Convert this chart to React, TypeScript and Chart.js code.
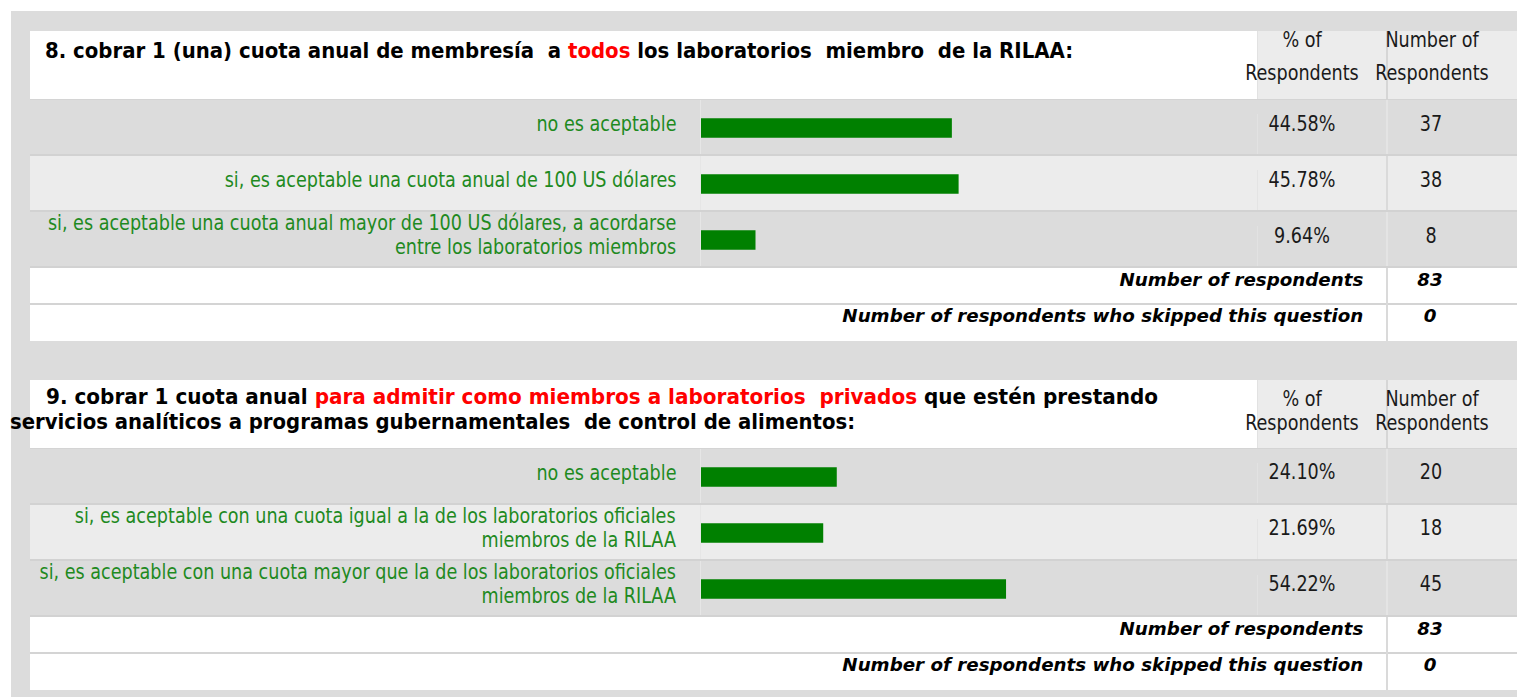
import React, { useEffect, useRef, useMemo } from 'react';
import { Chart, registerables } from 'chart.js';
Chart.register(...registerables);

// ---------- DATA ----------
const q8Title = [
  [
    { text: '8. cobrar 1 (una) cuota anual de membresía  a ', red: false },
    { text: 'todos', red: true },
    { text: ' los laboratorios  miembro  de la RILAA:', red: false },
  ],
];
const q8Categories = [
  ['no es aceptable'],
  ['si, es aceptable una cuota anual de 100 US dólares'],
  ['si, es aceptable una cuota anual mayor de 100 US dólares, a acordarse', 'entre los laboratorios miembros'],
];
const q8Percents = [44.58, 45.78, 9.64];
const q8Counts = [37, 38, 8];
const q8Answered = 83;
const q8Skipped = 0;

const q9Title = [
  [
    { text: '9. cobrar 1 cuota anual ', red: false },
    { text: 'para admitir como miembros a laboratorios  privados', red: true },
    { text: ' que estén prestando', red: false },
  ],
  [{ text: 'servicios analíticos a programas gubernamentales  de control de alimentos:', red: false }],
];
const q9Categories = [
  ['no es aceptable'],
  ['si, es aceptable con una cuota igual a la de los laboratorios oficiales', 'miembros de la RILAA'],
  ['si, es aceptable con una cuota mayor que la de los laboratorios oficiales', 'miembros de la RILAA'],
];
const q9Percents = [24.1, 21.69, 54.22];
const q9Counts = [20, 18, 45];
const q9Answered = 83;
const q9Skipped = 0;

const columnHeaders = [
  ['% of', 'Respondents'],
  ['Number of', 'Respondents'],
];
const footerLabels = ['Number of respondents', 'Number of respondents who skipped this question'];

// ---------- STYLE ----------
const FAMILY = '"DejaVu Sans Condensed", "DejaVu Sans", sans-serif';
const REG = { weight: 400, style: 'normal', size: 21 };
const BOLD = { weight: 700, style: 'normal', size: 21 };
const FOOT = { weight: 700, style: 'italic', size: 18 };
const GREEN_TEXT = '#1f8a1f';
const BAR_GREEN = '#008000';

function fontStr(f: any) {
  return `${f.style} ${f.weight} ${f.size}px ${FAMILY}`;
}
let ctxCache: CanvasRenderingContext2D | null = null;
function measure(text: string, f: any) {
  if (!ctxCache) ctxCache = document.createElement('canvas').getContext('2d');
  ctxCache!.font = fontStr(f);
  return ctxCache!.measureText(text).width;
}

type Anchor = 'left' | 'right' | 'center';
function Txt(props: {
  x: number; y: number; anchor: Anchor; font: any; k: number; color?: string; children: any;
}) {
  const { x, y, anchor, font, k, color = '#000', children } = props;
  const top = y - 0.928 * font.size;
  const span: any = {
    position: 'absolute',
    top: 0,
    whiteSpace: 'pre',
    fontFamily: FAMILY,
    fontWeight: font.weight,
    fontStyle: font.style,
    fontSize: font.size,
    lineHeight: 1.164,
    color,
  };
  if (anchor === 'left') {
    span.left = 0;
    span.transformOrigin = 'left top';
    span.transform = `scaleX(${k})`;
  } else if (anchor === 'right') {
    span.right = 0;
    span.transformOrigin = 'right top';
    span.transform = `scaleX(${k})`;
  } else {
    span.left = 0;
    span.transform = `translateX(-50%) scaleX(${k})`;
  }
  return (
    <div style={{ position: 'absolute', left: x, top, width: 0, height: 0 }}>
      <span style={span}>{children}</span>
    </div>
  );
}

function Box(p: { l: number; t: number; w: number; h: number; c: string }) {
  return <div style={{ position: 'absolute', left: p.l, top: p.t, width: p.w, height: p.h, background: p.c }} />;
}

function Bars(p: { left: number; top: number; width: number; height: number; labels: string[][]; values: number[] }) {
  const ref = useRef<HTMLCanvasElement>(null);
  useEffect(() => {
    const chart = new Chart(ref.current!, {
      type: 'bar',
      data: {
        labels: p.labels.map((l) => l.join(' ')),
        datasets: [{ data: p.values, backgroundColor: BAR_GREEN, borderWidth: 0, barThickness: 19 }],
      },
      options: {
        indexAxis: 'y',
        responsive: false,
        animation: false,
        devicePixelRatio: 1,
        layout: { padding: 0 },
        plugins: { legend: { display: false }, tooltip: { enabled: false } },
        scales: {
          x: { display: false, min: 0, max: 100 },
          y: { display: false },
        },
      },
    } as any);
    return () => chart.destroy();
  }, []);
  return (
    <canvas
      ref={ref}
      width={p.width}
      height={p.height}
      style={{ position: 'absolute', left: p.left, top: p.top, width: p.width, height: p.height }}
    />
  );
}

function Block(p: {
  T: number;
  title: { text: string; red: boolean }[][];
  titlePos: { x: number; dy: number; w: number }[];
  headDy: number[];
  categories: string[][];
  percents: number[];
  counts: number[];
  answered: number;
  skipped: number;
  numDy: number;
  ks: { reg: number; foot: number };
}) {
  const { T, ks } = p;
  const rowsTop = T + 69;
  const F = rowsTop + 168;
  const els: any[] = [];
  // header
  els.push(<Box key="hw" l={30} t={T} w={1228} h={69} c="#ffffff" />);
  els.push(<Box key="hp" l={1258} t={T} w={129} h={69} c="#ececec" />);
  els.push(<Box key="hn" l={1387} t={T} w={130} h={69} c="#ececec" />);
  els.push(<Box key="hl1" l={1257} t={T} w={1} h={69} c="#e2e2e2" />);
  els.push(<Box key="hl2" l={1386} t={T} w={2} h={69} c="#d6d6d6" />);
  els.push(<Box key="hb" l={30} t={rowsTop - 1} w={1487} h={1} c="#d4d4d4" />);
  // rows
  for (let i = 0; i < 3; i++) {
    const rt = rowsTop + i * 56;
    els.push(<Box key={'r' + i} l={30} t={rt} w={1487} h={54} c={i % 2 === 0 ? '#dcdcdc' : '#ececec'} />);
    els.push(<Box key={'rd' + i} l={30} t={rt + 54} w={1487} h={2} c="#d2d2d2" />);
    els.push(<Box key={'rv1' + i} l={700} t={rt} w={1} h={54} c="#e6e6e6" />);
    els.push(<Box key={'rv2' + i} l={1257} t={rt + 14} w={1} h={40} c={i % 2 === 0 ? '#e2e2e2' : '#e4e4e4'} />);
    els.push(<Box key={'rv3' + i} l={1386} t={rt} w={2} h={54} c={i % 2 === 0 ? '#e4e4e4' : '#dadada'} />);
  }
  // footers
  els.push(<Box key="f1" l={30} t={F} w={1487} h={35} c="#ffffff" />);
  els.push(<Box key="fd" l={30} t={F + 35} w={1487} h={2} c="#d4d4d4" />);
  els.push(<Box key="f2" l={30} t={F + 37} w={1487} h={36} c="#ffffff" />);
  els.push(<Box key="fv" l={1386} t={F} w={2} h={73} c="#dadada" />);

  // title text
  p.title.forEach((line, li) => {
    const pos = p.titlePos[li];
    const k = pos.w / measure(line.map((s) => s.text).join(''), BOLD);
    els.push(
      <Txt key={'t' + li} x={pos.x} y={T + pos.dy} anchor="left" font={BOLD} k={k}>
        {line.map((s, si) => (
          <span key={si} style={{ color: s.red ? '#ff0000' : '#000000' }}>{s.text}</span>
        ))}
      </Txt>
    );
  });
  // column headers
  const colCenters = [1302, 1432];
  columnHeaders.forEach((hdr, ci) => {
    hdr.forEach((line, li) => {
      els.push(
        <Txt key={'h' + ci + li} x={colCenters[ci]} y={T + p.headDy[li]} anchor="center" font={REG} k={ks.reg} color="#1a1a1a">
          {line}
        </Txt>
      );
    });
  });
  // row texts
  p.categories.forEach((lines, i) => {
    const rt = rowsTop + i * 56;
    const dys = lines.length === 1 ? [31] : [18, 42];
    lines.forEach((ln, li) => {
      els.push(
        <Txt key={'l' + i + li} x={676} y={rt + dys[li]} anchor="right" font={REG} k={ks.reg} color={GREEN_TEXT}>
          {ln}
        </Txt>
      );
    });
    els.push(
      <Txt key={'p' + i} x={1302} y={rt + p.numDy} anchor="center" font={REG} k={ks.reg} color="#1a1a1a">
        {p.percents[i].toFixed(2) + '%'}
      </Txt>
    );
    els.push(
      <Txt key={'c' + i} x={1431} y={rt + p.numDy} anchor="center" font={REG} k={ks.reg} color="#1a1a1a">
        {String(p.counts[i])}
      </Txt>
    );
  });
  // footer texts
  const fvals = [p.answered, p.skipped];
  footerLabels.forEach((lab, fi) => {
    const by = F + (fi === 0 ? 19 : 55);
    els.push(
      <Txt key={'fl' + fi} x={1363} y={by} anchor="right" font={FOOT} k={ks.foot}>
        {lab}
      </Txt>
    );
    els.push(
      <Txt key={'fvv' + fi} x={1430} y={by} anchor="center" font={FOOT} k={ks.foot}>
        {String(fvals[fi])}
      </Txt>
    );
  });

  return (
    <>
      {els}
      <Bars left={701} top={rowsTop} width={562} height={168} labels={p.categories} values={p.percents} />
    </>
  );
}

export default function App() {
  const ks = useMemo(() => {
    const reg = 140 / measure('no es aceptable', REG);
    const foot = 521 / measure(footerLabels[1], FOOT);
    return { reg, foot };
  }, []);
  return (
    <div style={{ position: 'absolute', left: 0, top: 0, width: 1517, height: 697, overflow: 'hidden', background: '#ffffff' }}>
      <Box l={11} t={11} w={1506} h={686} c="#dcdcdc" />
      <Block
        T={31}
        title={q8Title}
        titlePos={[{ x: 45, dy: 27, w: 1028 }]}
        headDy={[16, 49]}
        categories={q8Categories}
        percents={q8Percents}
        counts={q8Counts}
        answered={q8Answered}
        skipped={q8Skipped}
        numDy={31}
        ks={ks}
      />
      <Block
        T={380}
        title={q9Title}
        titlePos={[{ x: 46, dy: 24, w: 1112 }, { x: 10, dy: 49, w: 845 }]}
        headDy={[26, 50]}
        categories={q9Categories}
        percents={q9Percents}
        counts={q9Counts}
        answered={q9Answered}
        skipped={q9Skipped}
        numDy={30}
        ks={ks}
      />
    </div>
  );
}
